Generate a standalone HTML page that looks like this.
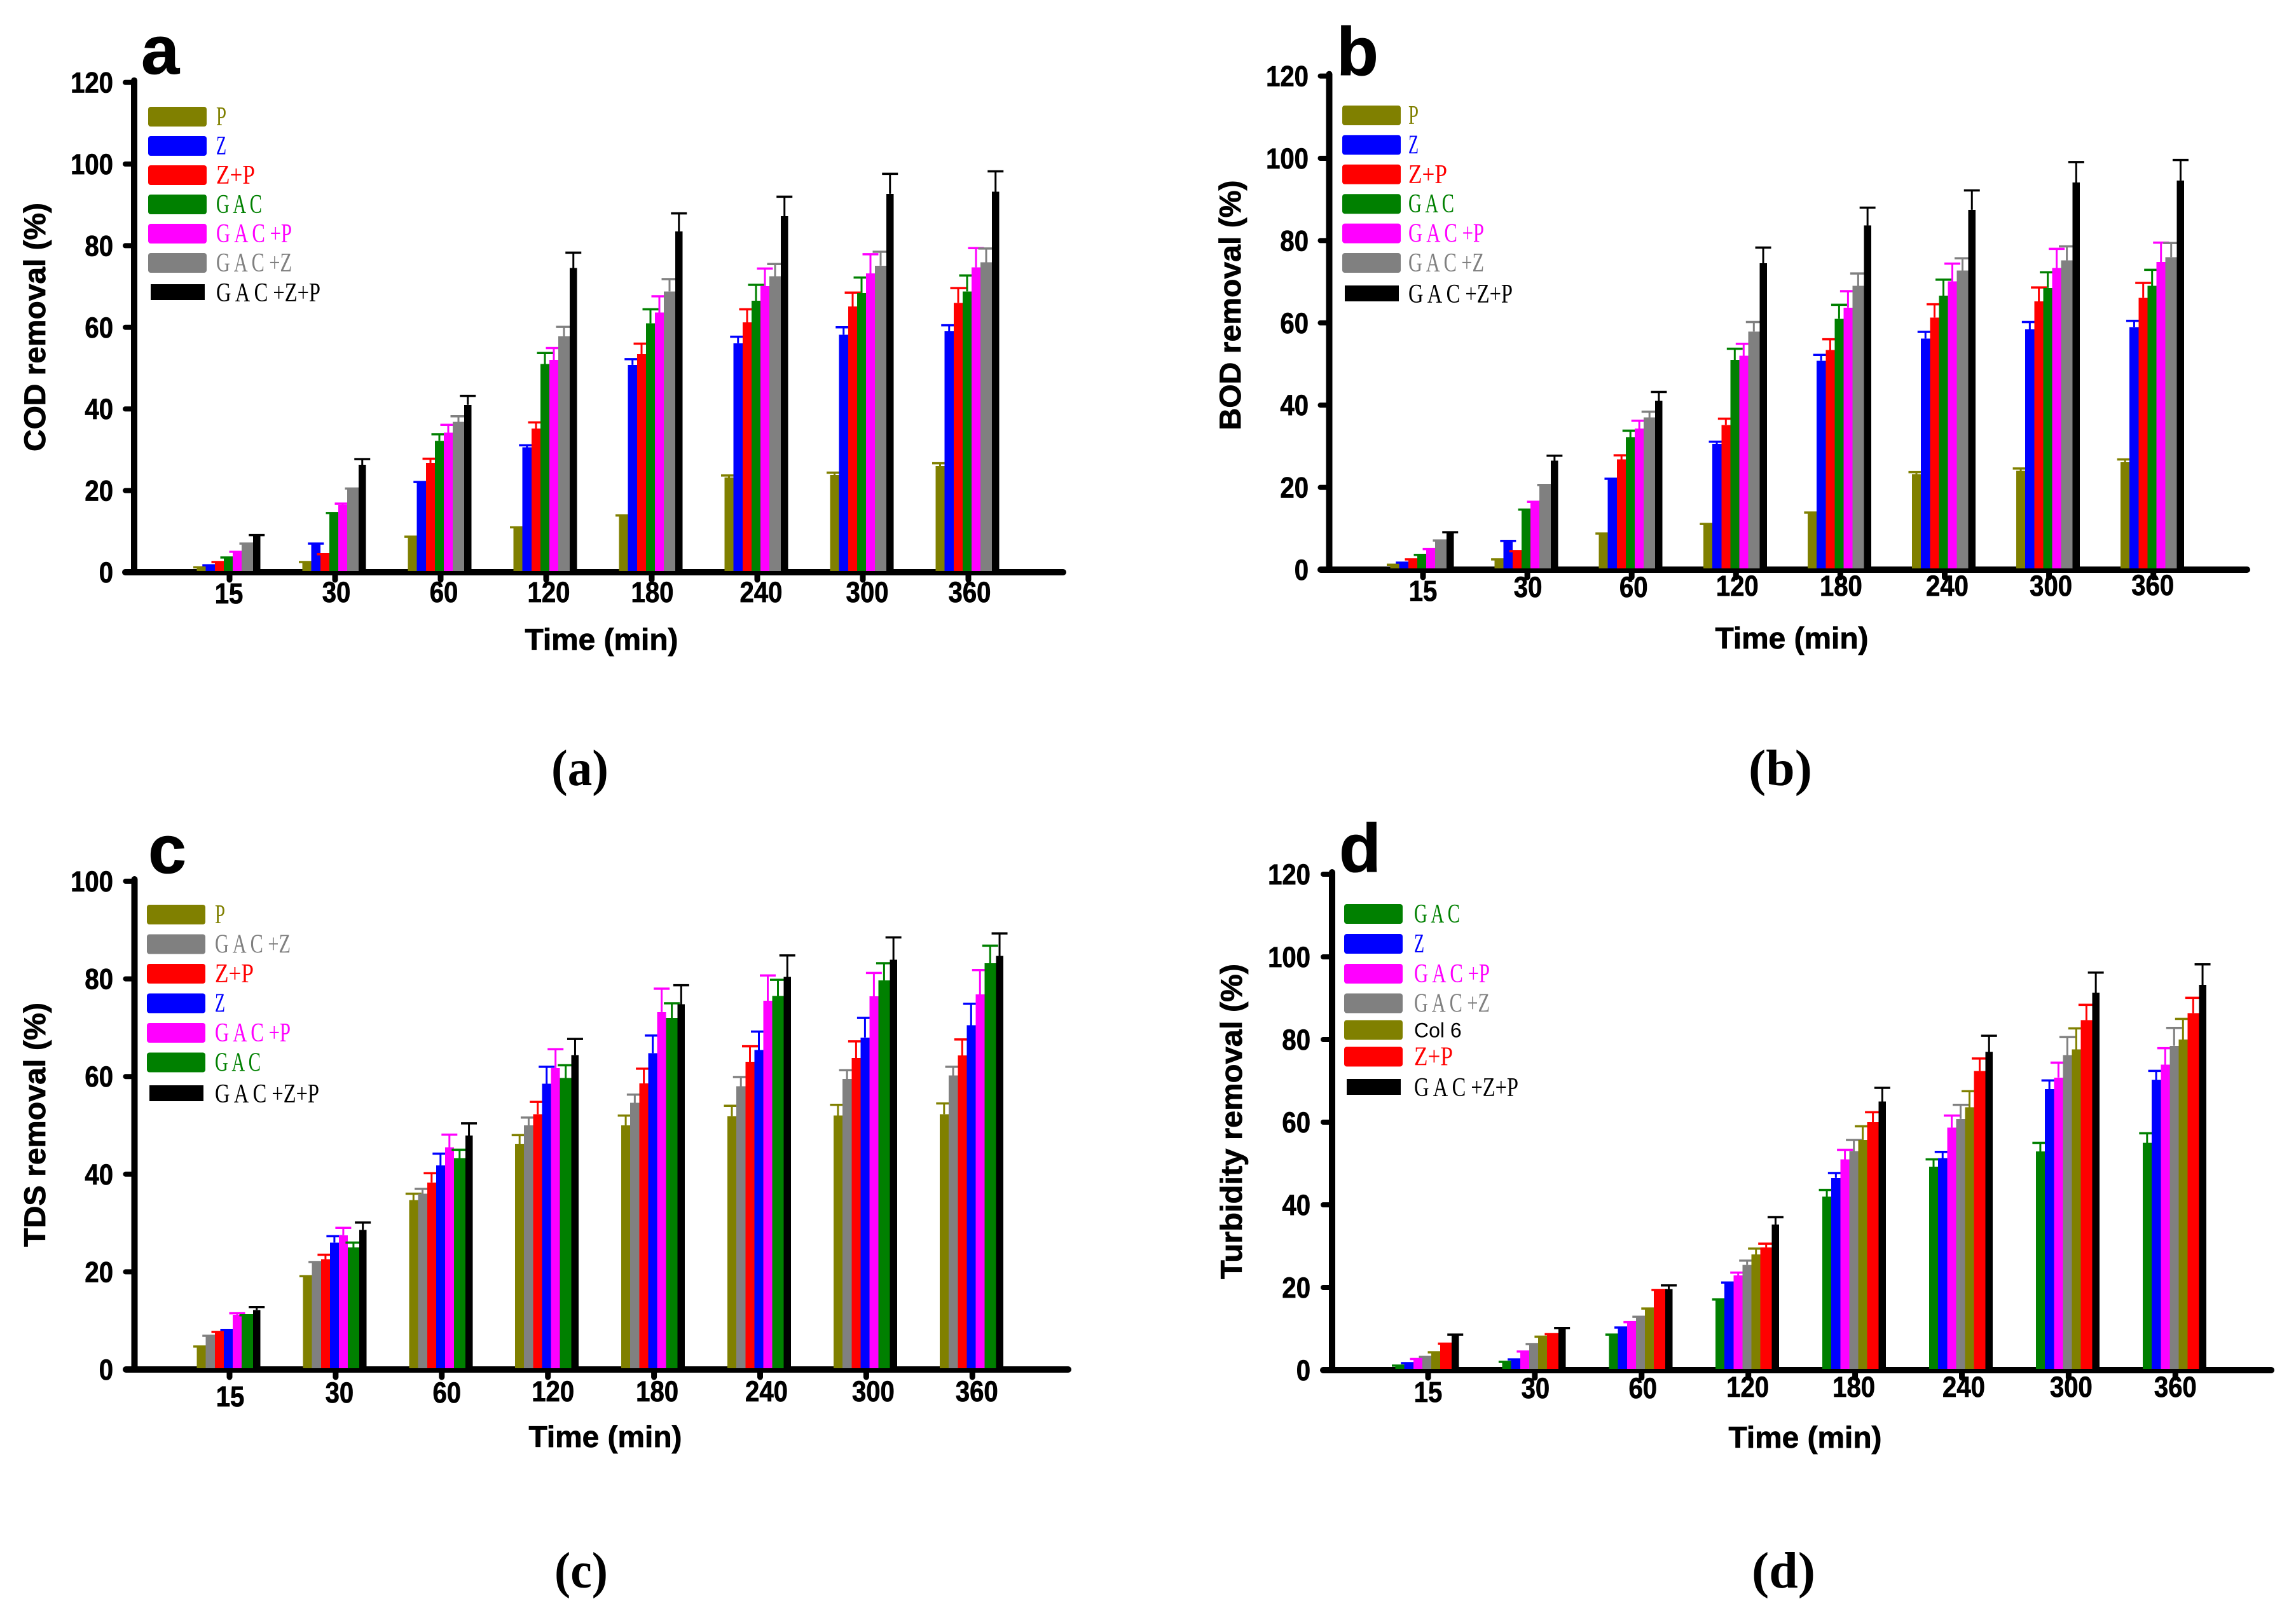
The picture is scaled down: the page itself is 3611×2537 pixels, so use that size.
<!DOCTYPE html>
<html lang="en">
<head>
<meta charset="utf-8">
<title>Removal efficiency charts</title>
<style>
html,body{margin:0;padding:0;background:#fff;}
#figure{display:block;width:3611px;height:2537px;background:#fff;}
text{fill:#000;}
.sans{font-family:"Liberation Sans",sans-serif;font-weight:700;stroke:#000;stroke-width:0.8px;}
.serif{font-family:"Liberation Serif",serif;}
</style>
</head>
<body>
<svg id="figure" xmlns="http://www.w3.org/2000/svg" width="3611" height="2537" viewBox="0 0 3611 2537"></svg>
<script>
// ---------- categories and axis ticks ----------
const timeCategories = ['15','30','60','120','180','240','300','360'];
const ticks120 = [0,20,40,60,80,100,120];
const ticks100 = [0,20,40,60,80,100];

// ---------- panel a: COD ----------
const cod_P = [1,2.3,8.5,10.8,13.7,23.2,23.8,26];
const cod_Z = [1.5,6.8,22,30.6,50.8,56.1,58.2,59];
const cod_ZP = [2.3,4.2,26.8,35.2,53.4,61.2,65.1,66];
const cod_GAC = [3.4,14.3,32.2,51,61,66.5,68.4,68.8];
const cod_GP = [4.8,16.5,34.2,52,63.6,70.1,73.2,74.7];
const cod_GZ = [6.8,20.3,36.8,57.8,68.8,72.5,75.1,75.9];
const cod_GZP = [9,26.3,41,74.5,83.5,87.2,92.7,93.2];
const cod_P_err = [.2,.2,.2,.2,.2,.5,.6,.7];
const cod_Z_err = [.2,.2,.1,.5,1.4,1.6,1.8,1.5];
const cod_ZP_err = [.2,.2,1,1.5,2.6,3.2,3.4,3.6];
const cod_GAC_err = [.2,.2,1.6,2.7,3.4,3.9,3.8,3.9];
const cod_GP_err = [.2,.3,1.9,2.9,4,4.3,4.7,4.7];
const cod_GZ_err = [.2,.2,1.4,2.3,3,3,3.4,3.4];
const cod_GZP_err = [.1,1.4,2.2,3.8,4.4,4.8,4.9,5];

// ---------- panel b: BOD ----------
const bod_P = [1,2.3,8.6,10.9,13.7,23.2,24,26.1];
const bod_Z = [1.5,6.8,22,30.6,50.8,56.2,58.4,59];
const bod_ZP = [2.3,4.3,26.8,35.2,53.4,61.3,65.2,66.1];
const bod_GAC = [3.4,14.4,32.2,51,61,66.6,68.5,69];
const bod_GP = [4.8,16.2,34.3,52,63.7,70.1,73.3,74.8];
const bod_GZ = [6.9,20.4,37,57.9,69,72.7,75.2,76];
const bod_GZP = [9,26.5,41,74.5,83.7,87.5,94.1,94.6];
const bod_P_err = [.2,.2,.2,.2,.2,.5,.6,.7];
const bod_Z_err = [.2,.2,.1,.5,1.4,1.6,1.8,1.5];
const bod_ZP_err = [.2,.2,1,1.5,2.6,3.2,3.4,3.6];
const bod_GAC_err = [.2,.2,1.6,2.7,3.4,3.9,3.8,3.9];
const bod_GP_err = [.2,.3,1.9,2.9,4,4.3,4.7,4.7];
const bod_GZ_err = [.2,.2,1.4,2.3,3,3,3.4,3.4];
const bod_GZP_err = [.1,1.2,2.2,3.8,4.3,4.7,5,5];

// ---------- panel c: TDS ----------
const tds_P = [4.6,19,34.7,46.2,50,51.9,52,52.3];
const tds_GZ = [6.8,21.8,36,50,54.6,58,59.5,60.2];
const tds_ZP = [7.5,22.6,38.3,52.3,58.6,63,63.8,64.3];
const tds_Z = [8,26,41.8,58.5,64.8,65.4,68,70.5];
const tds_GP = [11.2,27.5,45.5,61.7,73.2,75.5,76.4,76.8];
const tds_GAC = [11,25,43.3,59.7,72,76.5,79.7,83.2];
const tds_GZP = [12.2,28.6,47.9,64.4,74.8,80.4,83.9,84.7];
const tds_P_err = [.1,.1,1.3,1.8,2,2.1,2.2,2.2];
const tds_GZ_err = [.1,.2,1,1.6,1.7,1.9,1.8,1.8];
const tds_ZP_err = [.2,.9,1.9,2.5,3,3.2,3.4,3.3];
const tds_Z_err = [.1,1.3,2.4,3.5,3.6,3.8,4,4.4];
const tds_GP_err = [.3,1.5,2.6,3.9,4.8,5.2,4.8,5];
const tds_GAC_err = [.1,1,1.7,2.6,3,3.3,3.5,3.6];
const tds_GZP_err = [.6,1.5,2.5,3.3,3.9,4.4,4.6,4.6];

// ---------- panel d: Turbidity ----------
const tur_GAC = [1,1.9,8.5,17,42,49.2,52.9,55];
const tur_Z = [1.6,2.5,10.2,21,46.5,51.3,68,70.2];
const tur_GP = [2.6,4.4,11.5,22.9,51,58.7,70.8,73.9];
const tur_GZ = [3.1,6.2,12.8,25.5,53,60.8,76.2,78.5];
const tur_Col6 = [4.2,8,14.8,28,55.7,63.6,77.6,80];
const tur_ZP = [6.3,8.6,19.2,29.7,60,72.4,84.7,86.4];
const tur_GZP = [8.5,10,19.6,35.2,65,77,91.3,93.2];
const tur_GAC_err = [.1,.1,.1,.1,1.6,1.8,2.1,2.3];
const tur_Z_err = [.1,.1,.1,.2,1.2,1.5,2.1,2.2];
const tur_GP_err = [.1,.1,.1,.7,2.3,2.9,3.6,4];
const tur_GZ_err = [.1,.1,.1,1,2.7,3.4,4.4,4.3];
const tur_Col6_err = [.1,.1,.1,1.4,3.3,3.9,5.1,5];
const tur_ZP_err = [.1,.1,.2,.9,2.4,3,3.7,3.7];
const tur_GZP_err = [.1,.2,.9,1.8,3.3,3.9,4.9,5];

// ---------- series styling ----------
const OLIVE='#808000',BLUE='#0000ff',RED='#ff0000',GREEN='#008000',MAGENTA='#ff00ff',GRAY='#808080',BLACK='#000000';
const labelWidths = {'P':16,'Z':16,'Z+P':61,'G A C':72,'G A C +P':119,'G A C +Z':119,'G A C +Z+P':164};

const panels = [
  {id:'a',letter:'a',caption:'(a)',capLen:90,yTitle:'COD removal (%)',titleLen:391,ticks:ticks120,
   axisX:211,baseY:900,unit:6.42,tick0:361,pitch:166,xStart:197,xEnd:1677,tickRight:178,
   titleX:71,titleY:514.5,timeX:946,timeY:1022,letterX:222,letterY:116,capX:912,capY:1235,
   swX:233,swY:168,textX:340,legendGaps:[0,46,92,138,184,230,279],
   labelDx:[-1,2,5,4,1,6,7,2],labelDy:[2,0,0,0,0,0,0,0],labelY:947,
   series:[
    {n:'P',l:'P',c:OLIVE,v:cod_P,e:cod_P_err},{n:'Z',l:'Z',c:BLUE,v:cod_Z,e:cod_Z_err},
    {n:'Z-P',l:'Z+P',c:RED,v:cod_ZP,e:cod_ZP_err},{n:'GAC',l:'G A C',c:GREEN,v:cod_GAC,e:cod_GAC_err},
    {n:'GAC-P',l:'G A C +P',c:MAGENTA,v:cod_GP,e:cod_GP_err},{n:'GAC-Z',l:'G A C +Z',c:GRAY,v:cod_GZ,e:cod_GZ_err},
    {n:'GAC-Z-P',l:'G A C +Z+P',c:BLACK,v:cod_GZP,e:cod_GZP_err}]},
  {id:'b',letter:'b',caption:'(b)',capLen:100,yTitle:'BOD removal (%)',titleLen:393,ticks:ticks120,
   axisX:2090.5,baseY:896,unit:6.47,tick0:2238,pitch:164.1,xStart:2077,xEnd:3539,tickRight:2058,
   titleX:1951,titleY:480,timeX:2818,timeY:1020,letterX:2102,letterY:118,capX:2800,capY:1235,
   swX:2111,swY:166,textX:2215,legendGaps:[0,46.4,92.8,139.2,185.6,232,283],
   labelDx:[0,1,3,2,1,4,3,-1],labelDy:[9,3,3,1,1,1,1,0],labelY:936,
   series:[
    {n:'P',l:'P',c:OLIVE,v:bod_P,e:bod_P_err},{n:'Z',l:'Z',c:BLUE,v:bod_Z,e:bod_Z_err},
    {n:'Z-P',l:'Z+P',c:RED,v:bod_ZP,e:bod_ZP_err},{n:'GAC',l:'G A C',c:GREEN,v:bod_GAC,e:bod_GAC_err},
    {n:'GAC-P',l:'G A C +P',c:MAGENTA,v:bod_GP,e:bod_GP_err},{n:'GAC-Z',l:'G A C +Z',c:GRAY,v:bod_GZ,e:bod_GZ_err},
    {n:'GAC-Z-P',l:'G A C +Z+P',c:BLACK,v:bod_GZP,e:bod_GZP_err}]},
  {id:'c',letter:'c',caption:'(c)',capLen:84,yTitle:'TDS removal (%)',titleLen:384,ticks:ticks100,
   axisX:211.5,baseY:2154,unit:7.68,tick0:361,pitch:166.9,xStart:198,xEnd:1685,tickRight:178,
   titleX:71,titleY:1769,timeX:952,timeY:2276,letterX:233,letterY:1373,capX:914,capY:2497,
   swX:231,swY:1423,textX:338,legendGaps:[0,46.5,93,139.5,186,232.5,284],
   labelDx:[1,6,8,8,5,10,11,7],labelDy:[8,2,2,0,0,0,0,0],labelY:2204,
   series:[
    {n:'P',l:'P',c:OLIVE,v:tds_P,e:tds_P_err},{n:'GAC-Z',l:'G A C +Z',c:GRAY,v:tds_GZ,e:tds_GZ_err},
    {n:'Z-P',l:'Z+P',c:RED,v:tds_ZP,e:tds_ZP_err},{n:'Z',l:'Z',c:BLUE,v:tds_Z,e:tds_Z_err},
    {n:'GAC-P',l:'G A C +P',c:MAGENTA,v:tds_GP,e:tds_GP_err},{n:'GAC',l:'G A C',c:GREEN,v:tds_GAC,e:tds_GAC_err},
    {n:'GAC-Z-P',l:'G A C +Z+P',c:BLACK,v:tds_GZP,e:tds_GZP_err}]},
  {id:'d',letter:'d',caption:'(d)',capLen:100,yTitle:'Turbidity removal (%)',titleLen:496,ticks:ticks120,
   axisX:2095,baseY:2155,unit:6.5,tick0:2246,pitch:167.9,xStart:2081,xEnd:3577,tickRight:2061,
   titleX:1953,titleY:1764,timeX:2839,timeY:2277,letterX:2106,letterY:1371,capX:2805,capY:2497,
   swX:2114,swY:1422,textX:2224,legendGaps:[0,47,94,140.5,182.5,224.5,275],
   labelDx:[0,1,2,-1,-2,3,4,0],labelDy:[8,2,2,0,0,0,0,0],labelY:2197,
   series:[
    {n:'GAC',l:'G A C',c:GREEN,v:tur_GAC,e:tur_GAC_err},{n:'Z',l:'Z',c:BLUE,v:tur_Z,e:tur_Z_err},
    {n:'GAC-P',l:'G A C +P',c:MAGENTA,v:tur_GP,e:tur_GP_err},{n:'GAC-Z',l:'G A C +Z',c:GRAY,v:tur_GZ,e:tur_GZ_err},
    {n:'col-6',l:'Col 6',c:OLIVE,v:tur_Col6,e:tur_Col6_err},{n:'Z-P',l:'Z+P',c:RED,v:tur_ZP,e:tur_ZP_err},
    {n:'GAC-Z-P',l:'G A C +Z+P',c:BLACK,v:tur_GZP,e:tur_GZP_err}]}
];

const svg = document.getElementById('figure');
const NS = 'http://www.w3.org/2000/svg';
const slotEdges = [-51.5,-37.5,-23,-9,5,19,37,48.5];

function setAll(el, attrs){
  for (const k in attrs) el.setAttribute(k, attrs[k]);
  return el;
}
function make(parent, tag, attrs, txt){
  const el = setAll(document.createElementNS(NS, tag), attrs);
  if (txt !== undefined) el.textContent = txt;
  parent.appendChild(el);
  return el;
}

panels.forEach(function(p){
  const y = function(val){ return p.baseY - val * p.unit; };
  const xTick = function(i){ return p.tick0 + i * p.pitch; };

  const g = make(svg, 'g', {});
  
  

  // axes
  const top = y(p.ticks[p.ticks.length - 1]);
  const yAxis = make(g, 'line', {x1:p.axisX,x2:p.axisX,y1:top-3,y2:p.baseY,stroke:'#000','stroke-width':10,'stroke-linecap':'round'});
  
  
  const xAxis = make(g, 'line', {x1:p.xStart,x2:p.xEnd-5,y1:p.baseY,y2:p.baseY,stroke:'#000','stroke-width':10,'stroke-linecap':'round'});
  
  

  // y ticks
  p.ticks.forEach(function(t){
    const mark = make(g, 'line', {x1:p.axisX-14,x2:p.axisX,y1:y(t),y2:y(t),stroke:'#000','stroke-width':8,'stroke-linecap':'round'});
    
    
    const s = String(t);
    const lab = make(g, 'text', {x:p.tickRight,y:y(t)+16,'class':'sans','font-size':45,'text-anchor':'end',textLength:s.length*22.3,lengthAdjust:'spacingAndGlyphs'}, s);
    
    
  });

  // x ticks
  timeCategories.forEach(function(cat, i){
    const mark = make(g, 'line', {x1:xTick(i),x2:xTick(i),y1:p.baseY,y2:p.baseY+12,stroke:'#000','stroke-width':9,'stroke-linecap':'round'});
    
    
    const lab = make(g, 'text', {x:xTick(i)+p.labelDx[i],y:p.labelY+p.labelDy[i],'class':'sans','font-size':45,'text-anchor':'middle',textLength:cat.length*22.3,lengthAdjust:'spacingAndGlyphs'}, cat);
    
    
  });

  // bars & error bars
  p.series.forEach(function(s, si){
    const sg = make(g, 'g', {});
    
    
    s.v.forEach(function(val, i){
      const left = xTick(i) + slotEdges[si];
      const right = xTick(i) + slotEdges[si+1];
      const mid = (left + right) / 2;
      const yTop = y(val);
      const yErr = y(val + s.e[i]);
      const stem = make(sg, 'line', {x1:mid,x2:mid,y1:yErr,y2:yTop,stroke:s.c,'stroke-width':3});
      
      
      const cap = make(sg, 'line', {x1:mid-12.5,x2:mid+12.5,y1:yErr,y2:yErr,stroke:s.c,'stroke-width':3.5});
      
      
      const bar = make(sg, 'rect', {x:left,y:yTop,width:right-left,height:Math.max(0,y(0)-2-yTop),fill:s.c,'shape-rendering':'crispEdges'});
      
      
    });
  });

  // legend
  const lg = make(g, 'g', {});
  
  
  p.series.forEach(function(s, si){
    const ly = p.swY + p.legendGaps[si];
    const isLast = si === p.series.length - 1;
    const sw = isLast
      ? make(lg, 'rect', {x:p.swX+4,y:ly,width:85,height:25,fill:s.c})
      : make(lg, 'rect', {x:p.swX,y:ly,width:92,height:31,rx:4,ry:4,fill:s.c});
    
    
    let tx;
    if (s.l === 'Col 6') {
      tx = make(lg, 'text', {x:p.textX,y:ly+27,'font-family':'"Liberation Sans",sans-serif','font-size':32,fill:'#000'}, s.l);
    } else {
      tx = make(lg, 'text', {x:p.textX,y:ly+(isLast?27:29),'class':'serif','font-size':42,textLength:labelWidths[s.l],lengthAdjust:'spacingAndGlyphs'}, s.l);
      tx.style.fill = s.c;
    }
    
    
  });

  // titles
  const yt = make(g, 'text', {x:p.titleX,y:p.titleY,'class':'sans','font-size':47,'text-anchor':'middle',textLength:p.titleLen,lengthAdjust:'spacingAndGlyphs',transform:'rotate(-90 '+p.titleX+' '+p.titleY+')'}, p.yTitle);
  
  
  const xt = make(g, 'text', {x:p.timeX,y:p.timeY,'class':'sans','font-size':47,'text-anchor':'middle',textLength:241,lengthAdjust:'spacingAndGlyphs'}, 'Time (min)');
  
  
  const letter = make(g, 'text', {x:p.letterX,y:p.letterY,'class':'sans','font-size':108}, p.letter);
  
  
  const cap = make(g, 'text', {x:p.capX,y:p.capY,'class':'serif','font-size':80,'font-weight':700,'text-anchor':'middle',textLength:p.capLen,lengthAdjust:'spacingAndGlyphs'}, p.caption);
  
  
});
</script>
</body>
</html>
